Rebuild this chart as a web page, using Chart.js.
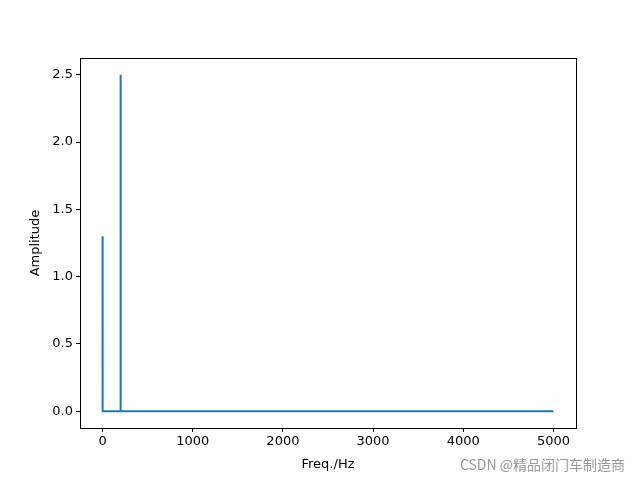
<!DOCTYPE html>
<html><head><meta charset="utf-8">
<script src="https://cdn.jsdelivr.net/npm/chart.js@4/dist/chart.umd.min.js"></script>
<style>html,body{margin:0;padding:0;background:#fff}#wrap{width:640px;height:480px}</style>
</head><body><div id="wrap"><canvas id="c" width="640" height="480"></canvas></div>
<script>
const freqs = [0, 1, 199, 200, 201, 5000];
const amps = [1.3, 0, 0, 2.5, 0, 0];
const xTicks = [0, 1000, 2000, 3000, 4000, 5000];
const yTicks = [0, 0.5, 1.0, 1.5, 2.0, 2.5];
const FONT = "'DejaVu Sans', sans-serif";

const boxPlugin = {
  id: 'box',
  afterDraw(chart) {
    const {ctx, chartArea: a} = chart;
    ctx.save();
    ctx.strokeStyle = '#000'; ctx.lineWidth = 1;
    ctx.strokeRect(Math.round(a.left) + 0.5, Math.round(a.top) + 0.5, Math.round(a.right - a.left), Math.round(a.bottom - a.top));
    ctx.fillStyle = '#999';
    ctx.font = "14px 'Noto Sans CJK SC', sans-serif";
    ctx.textAlign = 'right'; ctx.textBaseline = 'middle';
    ctx.fillText('CSDN @精品闭门车制造商', 625, 465);
    ctx.restore();
  }
};

new Chart(document.getElementById('c'), {
  type: 'scatter',
  data: {
    datasets: [{
      data: freqs.map((f, i) => ({x: f, y: amps[i]})),
      showLine: true, borderColor: '#1f77b4', borderWidth: 2,
      pointRadius: 0, fill: false, tension: 0
    }]
  },
  options: {
    responsive: false, animation: false,
    layout: {padding: {top: 58, right: 64, left: 28, bottom: 8}},
    plugins: {legend: {display: false}, tooltip: {enabled: false}},
    scales: {
      x: {
        type: 'linear', min: -250, max: 5250,
        afterBuildTicks: s => { s.ticks = xTicks.map(v => ({value: v})); },
        afterFit: s => { s.height = 44; },
        grid: {drawOnChartArea: false, color: '#000', tickLength: 4, tickWidth: 1},
        border: {display: false},
        ticks: {color: '#000', font: {family: FONT, size: 13}, padding: 2, maxRotation: 0,
          callback: v => String(v)},
        title: {display: true, text: 'Freq./Hz', color: '#000', font: {family: FONT, size: 13}, padding: {top: 2, bottom: 0}}
      },
      y: {
        min: -0.125, max: 2.625,
        afterBuildTicks: s => { s.ticks = yTicks.map(v => ({value: v})); },
        afterFit: s => { s.width = 52; },
        grid: {drawOnChartArea: false, color: '#000', tickLength: 4, tickWidth: 1},
        border: {display: false},
        ticks: {color: '#000', font: {family: FONT, size: 13}, padding: 3,
          callback: v => v.toFixed(1)},
        title: {display: true, text: 'Amplitude', color: '#000', font: {family: FONT, size: 13}, padding: {top: 0, bottom: 4}}
      }
    }
  },
  plugins: [boxPlugin]
});
</script></body></html>
